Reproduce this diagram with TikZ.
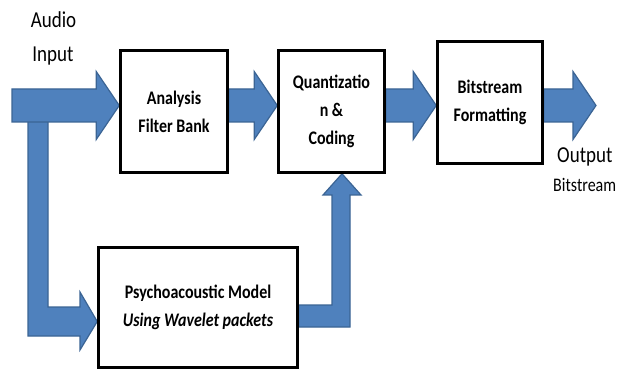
\documentclass[tikz,border=0pt]{standalone}
\usepackage{fontspec}
\setmainfont{Carlito}
\usetikzlibrary{backgrounds,shadows,calc}
\definecolor{arrfill}{HTML}{4F81BD}
\definecolor{arredge}{HTML}{3B6494}
\newcommand\vs[1]{\scalebox{1}[1.2]{#1}}
\newcommand\rarrow[2]{\path[blk] let \p1=#1, \p2=#2 in
  (\x1,\y1+16.5pt) -- (\x2-23pt,\y1+16.5pt) -- (\x2-23pt,\y1+34pt) -- (\x2,\y1)
  -- (\x2-23pt,\y1-34pt) -- (\x2-23pt,\y1-16.5pt) -- (\x1,\y1-16.5pt) -- cycle;}
\begin{document}
\begin{tikzpicture}[x=1pt,y=-1pt,
  box/.style={draw=black, line width=2.5pt, fill=white, inner sep=0pt, align=center,
    font=\bfseries\fontsize{16}{28}\selectfont,
    drop shadow={shadow xshift=1.2pt, shadow yshift=-1.2pt, fill=black!70, opacity=1}},
  blk/.style={fill=arrfill, draw=arredge, line width=1.2pt, line join=miter},
  lbl/.style={inner sep=0pt, anchor=base}]
\useasboundingbox (0,0) rectangle (618,371);
% boxes
\node[box, minimum width=107pt, minimum height=122pt] (a) at (174,111.5)
  {\vs{Analysis}\\\vs{Filter Bank}};
\node[box, minimum width=106pt, minimum height=122pt] (q) at (331.5,111.5)
  {\vs{Quantizatio}\\\vs{n \&}\\\vs{Coding}};
\node[box, minimum width=105pt, minimum height=122pt] (b) at (490,102.5)
  {\vs{Bitstream}\\\vs{Formatting}};
\node[box, minimum width=199pt, minimum height=120pt] (p) at (198,307.5)
  {\vs{Psychoacoustic Model}\\\vs{\itshape Using Wavelet packets}};
% labels
\node[lbl, font=\fontsize{19}{22}\selectfont] (l1) at (53.5,28) {\vs{Audio}};
\node[lbl, font=\fontsize{19}{22}\selectfont] (l2) at (53,62) {\vs{Input}};
\node[lbl, anchor=base west, font=\fontsize{19}{22}\selectfont] (l3) at (557,163) {\vs{Output}};
\node[lbl, anchor=base west, font=\fontsize{16}{20}\selectfont] (l4) at (553,192) {\vs{Bitstream}};
% coordinates
\coordinate (ax) at (0,105.5);
\coordinate (in0) at (12,105.5);
\coordinate (otip) at (596,105.5);
\begin{scope}[on background layer]
  \fill[white] (0,0) rectangle (618,371);
  % branch down to psychoacoustic model
  \path[blk] (28,105) -- (48,105) -- (48,307) -- (80,307) -- (80,292)
    -- (p.west |- 0,321.5) -- (80,350) -- (80,336) -- (28,336) -- cycle;
  \rarrow{(in0)}{(a.west |- ax)}
  \rarrow{(a.east |- ax)}{(q.west |- ax)}
  \rarrow{(q.east |- ax)}{(b.west |- ax)}
  \rarrow{(b.east |- ax)}{(otip)}
  % psychoacoustic model up to quantization
  \path[blk] (p.east |- 0,305) -- (332,305) -- (332,195) -- (323,195)
    -- (q.south -| 342,0) -- (361,195) -- (350,195) -- (350,327)
    -- (p.east |- 0,327) -- cycle;
\end{scope}
\end{tikzpicture}
\end{document}
